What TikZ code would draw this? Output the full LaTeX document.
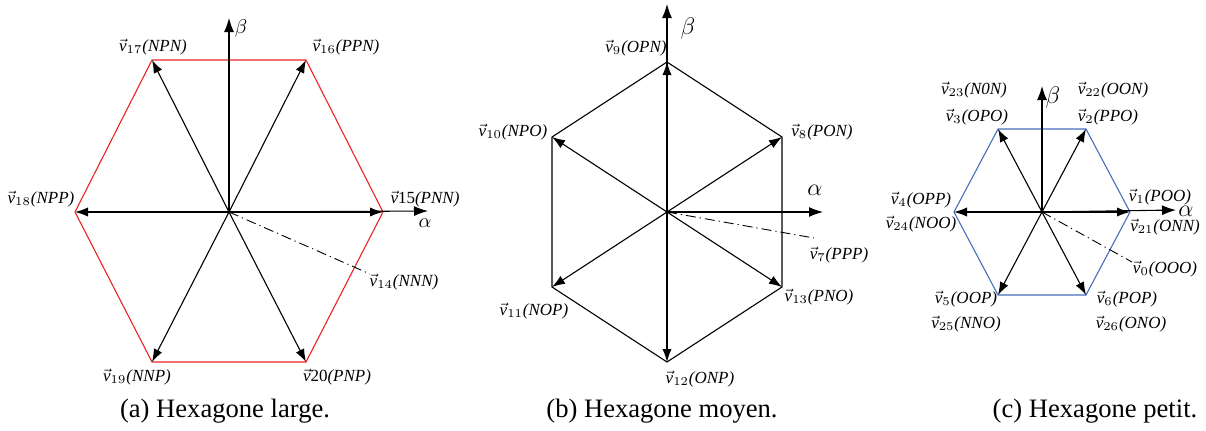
\documentclass[tikz,border=0pt]{standalone}
\usepackage{fontspec}
\setmainfont{Liberation Serif}
\usetikzlibrary{arrows.meta}
\pgfdeclarelayer{edgelayer}
\pgfdeclarelayer{nodelayer}
\pgfsetlayers{edgelayer,nodelayer,main}
\definecolor{hexred}{RGB}{235,35,40}
\definecolor{hexblue}{RGB}{70,110,190}
\tikzstyle{vecedge}=[draw=black, line width=0.55pt, -{Latex[length=6.5pt,width=4.6pt]}]
\tikzstyle{axis}=[draw=black, line width=0.55pt, -{Latex[length=7pt,width=5pt]}]
\tikzstyle{zeroedge}=[draw=black, line width=0.45pt, dash pattern=on 5pt off 2pt on 0.6pt off 2pt]
\tikzstyle{hexedge}=[line width=0.55pt]
\tikzstyle{lbl}=[font=\fontsize{8.5}{10}\selectfont, inner sep=1pt]
\tikzstyle{greek}=[font=\fontsize{10}{12}\selectfont, inner sep=1pt]
\tikzstyle{caption}=[font=\fontsize{13.3}{15}\selectfont]
\newcommand{\vv}[2]{$\vec{\mbox{\itshape v}}_{#1}$\textit{(#2)}}
\newcommand{\vw}[2]{$\vec{\mbox{\itshape v}}$#1\textit{(#2)}}

\begin{document}
\begin{tikzpicture}[x=0.5pt, y=-0.5pt]
	\useasboundingbox (0,0) rectangle (1206,430);
	% (a) hexagone large
	\begin{pgfonlayer}{nodelayer}
		\coordinate (o1) at (229, 212);
		\coordinate (a15) at (383, 212);
		\coordinate (a16) at (306, 60);
		\coordinate (a17) at (152, 60);
		\coordinate (a18) at (75, 212);
		\coordinate (a19) at (152, 362);
		\coordinate (a20) at (306, 362);
		\coordinate (abeta) at (229, 18);
		\coordinate (aalpha) at (428, 211);
		\coordinate (azero) at (370, 274);
		\node [style=lbl] (l17) at (153, 47) {\vv{17}{NPN}};
		\node [style=lbl] (l16) at (346, 47) {\vv{16}{PPN}};
		\node [style=lbl] (l18) at (41, 199) {\vv{18}{NPP}};
		\node [style=lbl] (l15) at (425, 199) {\vw{15}{PNN}};
		\node [style=lbl] (l14) at (404, 282) {\vv{14}{NNN}};
		\node [style=lbl] (l19) at (137, 377) {\vv{19}{NNP}};
		\node [style=lbl] (l20) at (337, 377) {\vw{20}{PNP}};
		\node [style=greek] (ab) at (241, 28) {$\beta$};
		\node [style=greek] (aa) at (425, 223) {$\alpha$};
		\node [style=caption] (capa) at (225, 411) {(a) Hexagone large.};
	\end{pgfonlayer}
	\begin{pgfonlayer}{edgelayer}
		\draw [style=hexedge, draw=hexred] (a15) -- (a16) -- (a17) -- (a18) -- (a19) -- (a20) -- cycle;
		\draw [style=axis] (o1) to (abeta);
		\draw [style=axis] (o1) to (aalpha);
		\foreach \v in {a15,a16,a17,a18,a19,a20}
			\draw [style=vecedge] (o1) to (\v);
		\draw [style=zeroedge] (o1) to (azero);
	\end{pgfonlayer}
	% (b) hexagone moyen
	\begin{pgfonlayer}{nodelayer}
		\coordinate (o2) at (667, 212);
		\coordinate (b8) at (782, 137);
		\coordinate (b9) at (667, 62);
		\coordinate (b10) at (552, 137);
		\coordinate (b11) at (552, 287);
		\coordinate (b12) at (667, 362);
		\coordinate (b13) at (782, 287);
		\coordinate (bbeta) at (667, 4);
		\coordinate (balpha) at (823, 212);
		\coordinate (bzero) at (814, 238);
		\node [style=lbl] (l9) at (636, 48) {\vv{9}{OPN}};
		\node [style=lbl] (l10) at (513, 132) {\vv{10}{NPO}};
		\node [style=lbl] (l8) at (822, 132) {\vv{8}{PON}};
		\node [style=lbl] (l7) at (839, 255) {\vv{7}{PPP}};
		\node [style=lbl] (l13) at (819, 297) {\vv{13}{PNO}};
		\node [style=lbl] (l11) at (534, 311) {\vv{11}{NOP}};
		\node [style=lbl] (l12) at (700, 379) {\vv{12}{ONP}};
		\node [style=greek, font=\fontsize{13}{14}\selectfont] (bb) at (688, 28) {$\beta$};
		\node [style=greek, font=\fontsize{13}{14}\selectfont] (ba) at (815, 190) {$\alpha$};
		\node [style=caption] (capb) at (662, 411) {(b) Hexagone moyen.};
	\end{pgfonlayer}
	\begin{pgfonlayer}{edgelayer}
		\draw [style=hexedge] (b8) -- (b9) -- (b10) -- (b11) -- (b12) -- (b13) -- cycle;
		\draw [style=axis] (o2) to (bbeta);
		\draw [style=axis] (o2) to (balpha);
		\foreach \v in {b8,b9,b10,b11,b12,b13}
			\draw [style=vecedge] (o2) to (\v);
		\draw [style=zeroedge] (o2) to (bzero);
	\end{pgfonlayer}
	% (c) hexagone petit
	\begin{pgfonlayer}{nodelayer}
		\coordinate (o3) at (1042, 212);
		\coordinate (c1) at (1130, 212);
		\coordinate (c2) at (1086, 129);
		\coordinate (c3) at (998, 129);
		\coordinate (c4) at (954, 212);
		\coordinate (c5) at (998, 295);
		\coordinate (c6) at (1086, 295);
		\coordinate (cbeta) at (1042, 86);
		\coordinate (calpha) at (1176, 210);
		\coordinate (czero) at (1132, 262);
		\node [style=lbl] (l23) at (974, 90) {\vv{23}{N0N}};
		\node [style=lbl] (l3) at (977, 117) {\vv{3}{OPO}};
		\node [style=lbl] (l22) at (1113, 90) {\vv{22}{OON}};
		\node [style=lbl] (l2) at (1108, 117) {\vv{2}{PPO}};
		\node [style=lbl] (l4) at (921, 200) {\vv{4}{OPP}};
		\node [style=lbl] (l24) at (921, 224) {\vv{24}{NOO}};
		\node [style=lbl] (l1) at (1160, 197) {\vv{1}{POO}};
		\node [style=lbl] (l21) at (1165, 227) {\vv{21}{ONN}};
		\node [style=lbl] (l0) at (1165, 269) {\vv{0}{OOO}};
		\node [style=lbl] (l5) at (966, 299) {\vv{5}{OOP}};
		\node [style=lbl] (l25) at (966, 324) {\vv{25}{NNO}};
		\node [style=lbl] (l6) at (1127, 299) {\vv{6}{POP}};
		\node [style=lbl] (l26) at (1131, 324) {\vv{26}{ONO}};
		\node [style=greek, font=\fontsize{11.5}{13}\selectfont] (cb) at (1053, 97) {$\beta$};
		\node [style=greek, font=\fontsize{11.5}{13}\selectfont] (ca) at (1186, 211) {$\alpha$};
		\node [style=caption] (capc) at (1095, 411) {(c) Hexagone petit.};
	\end{pgfonlayer}
	\begin{pgfonlayer}{edgelayer}
		\draw [style=hexedge, draw=hexblue] (c1) -- (c2) -- (c3) -- (c4) -- (c5) -- (c6) -- cycle;
		\draw [style=axis] (o3) to (cbeta);
		\draw [style=axis] (o3) to (calpha);
		\foreach \v in {c1,c2,c3,c4,c5,c6}
			\draw [style=vecedge] (o3) to (\v);
		\draw [style=zeroedge] (o3) to (czero);
	\end{pgfonlayer}
\end{tikzpicture}
\end{document}
